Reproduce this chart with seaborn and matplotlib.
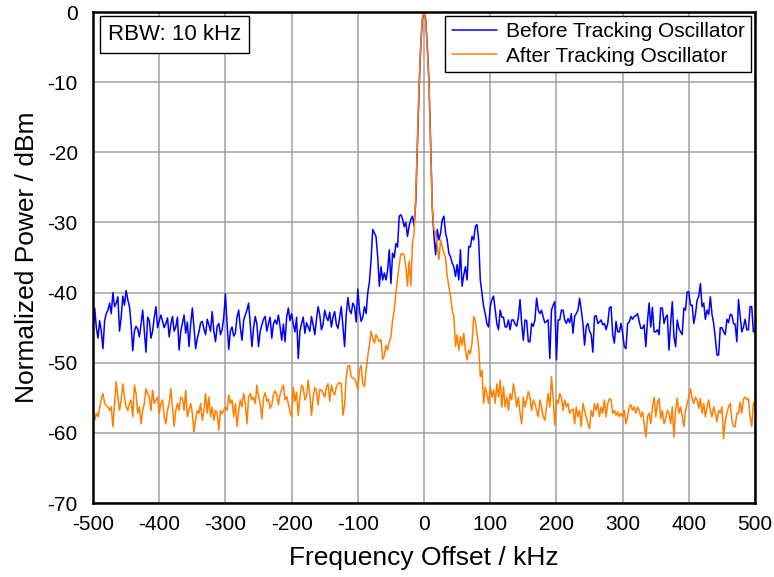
import numpy as np
import pandas as pd
import matplotlib
matplotlib.use("Agg")
import matplotlib.pyplot as plt
from matplotlib.ticker import MultipleLocator
import seaborn as sns

# Frequency offset grid in kHz (2.5 kHz steps across the span)
freq = np.arange(-500, 500.01, 2.5)

# Spectrum before the tracking oscillator (dBm, normalised to the carrier)
before_left = [  # -500 ... -90 kHz
    -45.5, -42.2, -45, -46.5, -44, -45.5, -48, -44, -43, -42.5,
    -41.5, -43, -40, -42, -41.5, -40.6, -45.5, -43.5, -40.5, -41.8,
    -39.7, -41, -42, -44.5, -48.3, -45.5, -44.8, -45.2, -46.3, -44.5,
    -42.5, -45.5, -48.5, -43.5, -44, -46.5, -45.5, -43.5, -42, -45,
    -44, -43.2, -44.1, -45, -44.4, -43.6, -46.3, -44.5, -43.4, -45.5,
    -44.9, -43.5, -48.2, -45.5, -44.4, -43.2, -45.8, -44.2, -47.7, -44.5,
    -42.2, -45, -48, -46.5, -45.6, -44.3, -44.1, -45.2, -46, -43.8,
    -44.6, -45.5, -42.7, -45.5, -47, -44.8, -44.4, -46, -45.3, -43.5,
    -40.2, -44.5, -48.1, -45.5, -44.9, -46.2, -45.8, -43.5, -42.5, -45,
    -46.8, -44, -43.2, -42.5, -41.5, -44.5, -47.7, -45, -43.4, -44.5,
    -47.7, -45.5, -44.6, -43.8, -43.4, -45.5, -44.4, -43.5, -46.5, -44.5,
    -43.9, -44.5, -43.2, -44.8, -46.8, -44.5, -47, -43.5, -42.2, -44,
    -43, -44.5, -45.6, -43.5, -49.4, -45.5, -44.4, -43.5, -45.8, -44.3,
    -44.9, -45.5, -43.4, -44.6, -46, -43.8, -42, -43.2, -45.3, -44.5,
    -42.5, -43.5, -44, -42.8, -44.9, -43.5, -42.7, -44.5, -45.1, -43.5,
    -42, -44.8, -47.7, -43, -40.7, -42.5, -43, -41.5, -42, -44.2,
    -39.5, -42.5, -44.1, -43.5, -42,
]
before_mid = [  # -87.5 ... 87.5 kHz
    -43, -40, -38.5, -35.3, -31, -31.5, -32, -34.9, -39.1, -36.3,
    -38.2, -37.2, -38.2, -36.8, -33.9, -38.7, -34.4, -35, -33, -33.5,
    -29.1, -28.9, -29.5, -30.6, -30, -32, -30.5, -29.6, -29.1, -30.5,
    -27, -19, -11, -5, -1,
    0,
    -1, -5, -10, -19, -28, -32, -34.6, -31, -32.5, -31.5,
    -29.6, -29.1, -31.5, -32.5, -34.4, -34.9, -35.8, -36.3, -37.7, -36,
    -38.2, -33.9, -39.1, -37.5, -36.3, -38.2, -33.4, -33.5, -32, -32.5,
    -30.6, -30.3, -32.5, -38.2, -40.1,
]
before_right = [  # 90 ... 500 kHz
    -42, -43, -44.5, -44.9, -42, -41, -40.5, -42.5, -44.4, -45.3,
    -42.5, -43.5, -43.5, -44.9, -44.9, -43.9, -45.3, -43.9, -43.9, -44.5,
    -44.8, -43.5, -41, -44.4, -46.8, -43.9, -44, -47, -47, -44.4,
    -44.8, -43.9, -40.8, -42.5, -43, -42.5, -43.5, -44.3, -44.1, -43.9,
    -49.4, -42.5, -41.8, -41.3, -49.6, -43.9, -43.9, -42.5, -42.5, -43.9,
    -44.4, -43.7, -44.3, -43, -45.8, -43.4, -43, -42.5, -40.8, -42.5,
    -44.4, -47.5, -44.8, -44.4, -45.5, -46, -48.5, -43.4, -43.3, -44.4,
    -44.2, -43.9, -44.6, -44.4, -45.3, -44.4, -42.2, -42, -46, -47.2,
    -44.1, -45.6, -45.6, -44.4, -45.8, -47.7, -48, -44.4, -44.2, -43.4,
    -43.8, -43.4, -43.3, -43, -44.1, -45.1, -45.1, -44.6, -47.7, -44.1,
    -41.5, -44.9, -42.1, -45.6, -45.6, -45.3, -46, -42.2, -42.2, -44.4,
    -43.5, -43.2, -48.2, -44.4, -41.3, -46.3, -47.7, -43.9, -45.1, -45.6,
    -46, -42.2, -42.5, -39.9, -39.9, -41.8, -41.8, -44.4, -43.1, -41.1,
    -40.5, -38.7, -42, -41.5, -43.8, -42.5, -43.1, -40.6, -43.1, -44.4,
    -46.5, -48.9, -48.9, -45, -45, -45.6, -46, -43.8, -44.3, -43.1,
    -43.2, -44.4, -44.5, -47, -41, -43.4, -45.6, -44.9, -43.8, -45.3,
    -45.3, -42, -42, -45.6, -45.5,
]

# Spectrum after the tracking oscillator (dBm, normalised to the carrier)
after_left = [  # -500 ... -90 kHz
    -56.8, -58.2, -57.2, -57.7, -56.5, -55.1, -54.4, -55.8, -56.1, -56.3,
    -56.8, -56.3, -59.1, -55.8, -52.7, -54.9, -56.8, -55.3, -53, -54.9,
    -56.3, -56.8, -55.8, -55.3, -57.7, -53.2, -54.4, -57.2, -56.3, -58.7,
    -56.8, -55.8, -53.7, -54.4, -54.9, -56.8, -53.9, -55.8, -55.3, -54.9,
    -57.2, -55.8, -55.3, -57.7, -58.7, -56.8, -55.8, -53.7, -56.3, -59.1,
    -56.8, -55.8, -56.8, -54.9, -55.1, -56.8, -53.9, -57.7, -56.8, -55.8,
    -57.2, -59.9, -58, -56.8, -57.2, -55.8, -58.2, -56.8, -54.4, -57.2,
    -54.9, -57.7, -56.3, -58.2, -56.8, -57.2, -59.6, -56.8, -57.3, -56.8,
    -56.3, -56.8, -54.6, -55.8, -55.3, -57.7, -55.8, -59.1, -56.8, -55.3,
    -56.3, -54.4, -55.8, -58.7, -54.9, -54.4, -55.3, -54.9, -55.8, -53.2,
    -54.9, -55.8,
    -58, -55, -54.3, -55.5, -55.2, -56.5, -56, -54.6, -54, -54.5,
    -56, -54.5, -53.8, -53.2, -55.3, -54.8, -55.8, -57, -57.7, -53.5,
    -55.5, -54.2, -57.5, -55, -53.2, -53.5, -55.3, -54.8, -52.5, -54.5,
    -57.5, -55, -53.5, -54, -56, -53.8, -53.9, -54.3, -54.9, -53.5,
    -53, -55.5, -53.2, -54.2, -54.6, -53.5, -53, -52.8, -53, -57.5,
    -56, -52, -50.5, -50.4, -52, -52.2, -52.3, -52.8, -53.8, -51,
    -50.4, -53, -53.4,
]
after_mid = [  # -87.5 ... 87.5 kHz
    -51, -49, -47.5, -45.5, -46.5, -47.2, -46, -46.5, -47, -46.7,
    -49.5, -49, -47.5, -48.2, -47, -46.3, -44, -42.5, -40, -38,
    -36, -34.5, -34.4, -34.8, -36.3, -39.1, -35.5, -39, -33, -31.5,
    -26, -18.5, -10.5, -4.5, -0.8,
    0,
    -1.2, -5.5, -10.5, -19.5, -28, -31, -31.5, -33.4, -35.3, -32.5,
    -33.5, -34.4, -35, -37.7, -39.1, -40.6, -42.5, -43.4, -47.7, -46,
    -48.2, -46.3, -47.5, -45.8, -48.2, -49.6, -48.2, -48.7, -47.2, -43.4,
    -44, -45.8, -47.7, -52, -51.1,
]
after_right = [  # 90 ... 500 kHz
    -55.8, -53.5, -54.5, -55.8, -53.4, -54.9, -53.9, -55.8, -53, -54.9,
    -52.5, -56.3, -53.4, -56.3, -54.9, -56.8, -54.4, -55.3, -53, -54.4,
    -56.3, -54.9, -57.2, -58.7, -54.9, -56.3, -55.3, -54.1, -54.9, -56.8,
    -55.3, -55.8, -56.8, -57.7, -55.3, -56.3, -57.7, -58.2, -56.3, -54.4,
    -56.3, -52, -54.9, -58.9, -55.3, -55.8, -54.4, -54.9, -56.8, -55.3,
    -56.3, -55.8, -57.2, -56.8, -56.6, -58.7, -56.3, -57.7, -56.8, -59.1,
    -55.8, -56.8, -57.7, -58.7,
    -59.4, -56.8, -57.7, -55.8, -56.8, -55.8, -57.7, -56.3, -57.2, -55.3,
    -57.7, -55.8, -55.1, -55.3, -57.2, -56.8, -57.5, -57, -57.7, -57.2,
    -57.7, -56.8, -58.7, -57.7, -56.3, -56, -56.8, -56.3, -57.2, -56.3,
    -56.8, -57.7, -57, -58.7, -60.6, -57.7, -57.2, -58.7, -56.3, -54.9,
    -57.7, -55.8, -55.1, -58, -56.8, -58.7, -58, -56.8, -57.2, -58.7,
    -56.3, -60.6, -56.8, -55.1, -57.2, -56.3, -57.7, -59.1, -56.8, -55.8,
    -54.9, -53.7, -55.1, -55.8, -54.9, -55.3, -56.5, -55.1, -57.2, -55.8,
    -57.7, -56.3, -55.3, -56.8, -57.7, -56.3, -57.2, -58.4, -56.8, -57.2,
    -56.3, -60.8, -58.2, -57.2, -56.3, -55.8, -58.2, -59.1, -59.1, -57.2,
    -57.2, -55.6, -57.2, -55.1, -54.9, -55.3, -55.1, -57.7, -59.1, -55.8,
    -55.5,
]

series_names = ["Before Tracking Oscillator", "After Tracking Oscillator"]
series_colors = ["#0000FF", "#FF8000"]

before = np.array(before_left + before_mid + before_right)
after = np.array(after_left + after_mid + after_right)
assert len(before) == len(freq) and len(after) == len(freq)

df = pd.concat([
    pd.DataFrame({"freq": freq, "power": before, "trace": series_names[0]}),
    pd.DataFrame({"freq": freq, "power": after, "trace": series_names[1]}),
], ignore_index=True)

sns.set_style("white")
plt.rcParams["font.family"] = ["Liberation Sans", "DejaVu Sans"]
plt.rcParams["axes.unicode_minus"] = False
for key in ["text.color", "axes.labelcolor", "xtick.color", "ytick.color"]:
    plt.rcParams[key] = "black"

fig = plt.figure(figsize=(7.74, 5.77), dpi=100)
ax = fig.add_axes([0.1202, 0.1282, 0.8553, 0.8510])

sns.lineplot(
    data=df, x="freq", y="power", hue="trace",
    palette=dict(zip(series_names, series_colors)),
    estimator=None, sort=False, linewidth=1.1, ax=ax, legend=False,
)

ax.set_xlim(-500, 500)
ax.set_ylim(-70, 0)
ax.xaxis.set_major_locator(MultipleLocator(100))
ax.xaxis.set_minor_locator(MultipleLocator(50))
ax.yaxis.set_major_locator(MultipleLocator(10))
ax.yaxis.set_minor_locator(MultipleLocator(5))

ax.grid(True, which="major", color="#A0A0A0", linewidth=1.1)
ax.set_axisbelow(True)

for side in ["left", "right", "top", "bottom"]:
    ax.spines[side].set_visible(True)
    ax.spines[side].set_color("black")
    ax.spines[side].set_linewidth(1.8)

ax.tick_params(axis="both", which="major", direction="inout", length=11,
               width=1.5, color="black", labelsize=15, pad=3)
ax.tick_params(axis="both", which="minor", direction="out", length=4,
               width=1.5, color="black")
ax.tick_params(axis="y", which="major", direction="out", length=7, pad=4)

ax.set_xlabel("Frequency Offset / kHz", fontsize=19, labelpad=9)
ax.set_ylabel("Normalized Power / dBm", fontsize=19, labelpad=6)

handles = [plt.Line2D([], [], color=c, linewidth=1.1) for c in series_colors]
leg = ax.legend(handles, series_names, loc="upper right", fontsize=15,
                frameon=True, fancybox=False, edgecolor="black",
                framealpha=1, handlelength=2.2, handletextpad=0.4,
                borderpad=0.3, labelspacing=0.25,
                borderaxespad=0.2)
leg.get_frame().set_linewidth(1.0)

ax.text(0.0225, 0.976, "RBW: 10 kHz", transform=ax.transAxes,
        fontsize=16, va="top", ha="left",
        bbox=dict(boxstyle="square,pad=0.36", facecolor="white",
                  edgecolor="black", linewidth=1.0))

fig.savefig("out.png", dpi=100)
